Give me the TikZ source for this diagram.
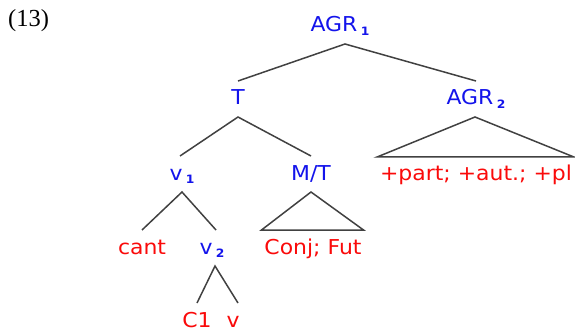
\documentclass[tikz,border=0pt]{standalone}
\usepackage{fontspec}
\setmainfont[FakeStretch=1.07]{DejaVu Sans}
\newfontfamily\numfont{Liberation Serif}
\definecolor{catblue}{RGB}{20,20,235}
\definecolor{wordred}{RGB}{250,10,10}
\definecolor{branch}{RGB}{65,65,65}
\newcommand{\idx}[1]{\,\raisebox{-0.3ex}{\fontsize{11.5}{12}\selectfont\bfseries #1}}
\tikzset{
  lab/.style={inner sep=0pt, outer xsep=0pt, outer ysep=9pt, anchor=base,
    text height=15pt, text depth=3pt, font=\fontsize{20.5}{24}\selectfont},
  cat/.style={lab, text=catblue},
  word/.style={lab, text=wordred},
  edge/.style={draw=branch, line width=1.5pt},
}
\begin{document}
\begin{tikzpicture}[x=1pt, y=-1pt]
  \useasboundingbox (0,0) rectangle (575,331);

  \node[anchor=west, inner sep=0pt, font=\numfont\fontsize{24.5}{28}\selectfont] (num) at (8,21) {(13)};

  % category labels
  \node[cat] (agrone) at (340,32) {AGR\idx{1}};
  \node[cat] (tee)    at (238,105) {T};
  \node[cat] (agrtwo) at (476,105) {AGR\idx{2}};
  \node[cat] (vone)   at (182,180) {v\idx{1}};
  \node[cat] (mt)     at (311,180) {M/T};
  \node[cat] (vtwo)   at (212,254) {v\idx{2}};

  % lexical material
  \node[word] (cant) at (142,254) {cant};
  \node[word] (conj) at (313,254) {Conj; Fut};
  \node[word] (feat) at (476,181) {+part; +aut.; +pl};
  \node[word] (clit) at (197,327) {C1};
  \node[word] (vv)   at (233,327) {v};

  % branches
  \draw[edge] (tee.north) -- ([xshift=5pt]agrone.south) -- (agrtwo.north);
  \draw[edge] ([xshift=-2pt]vone.north) -- (tee.south) -- (mt.north);
  \draw[edge] (cant.north) -- (vone.south) -- ([xshift=4pt]vtwo.north);
  \draw[edge] (clit.north) -- ([xshift=3pt]vtwo.south) -- ([xshift=5pt]vv.north);

  % triangles over unanalysed material
  \draw[edge, line join=miter] (mt.south) -- ([xshift=-3pt]conj.north west) -- ([xshift=2pt]conj.north east) -- cycle;
  \draw[edge, line join=miter] ([xshift=-1pt]agrtwo.south) -- ([xshift=-3pt]feat.north west) -- ([xshift=2pt]feat.north east) -- cycle;
\end{tikzpicture}
\end{document}
